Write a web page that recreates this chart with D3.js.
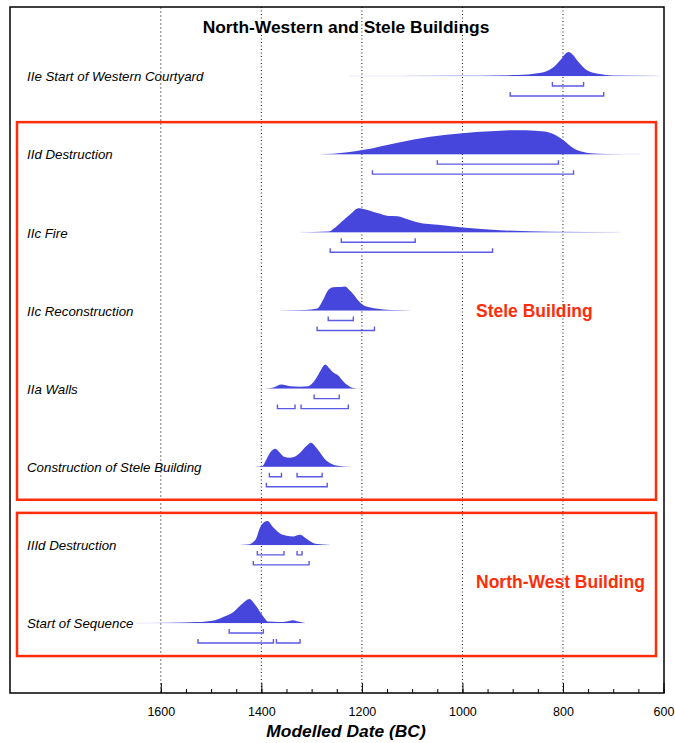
<!DOCTYPE html>
<html>
<head>
<meta charset="utf-8">
<script src="https://cdn.jsdelivr.net/npm/d3@7"></script>
<style>
  body { margin: 0; background: #fff; }
  text { font-family: "Liberation Sans", Arial, sans-serif; }
</style>
</head>
<body>
<div id="chart"></div>
<script>
// row labels, top to bottom
const labels = [
  'IIe Start of Western Courtyard',
  'IId Destruction',
  'IIc Fire',
  'IIc Reconstruction',
  'IIa Walls',
  'Construction of Stele Building',
  'IIId Destruction',
  'Start of Sequence'
];

// posterior densities: [year BC, relative height]
const densIIe = [[1225, 0], [1024, 0.01], [891, 0.04], [847, 0.12], [821, 0.33], [805, 0.67], [795, 0.93], [789, 1], [781, 0.9], [769, 0.58], [753, 0.25], [727, 0.08], [702, 0.02], [606, 0]];
const densIId = [[1283, 0], [1257, 0.02], [1199, 0.17], [1124, 0.5], [1064, 0.72], [1000, 0.87], [944, 0.95], [891, 1], [855, 0.98], [831, 0.92], [815, 0.8], [799, 0.58], [779, 0.25], [761, 0.1], [745, 0.04], [715, 0.01], [646, 0]];
const densFire = [[1323, 0], [1267, 0.03], [1253, 0.2], [1237, 0.5], [1223, 0.75], [1207, 1], [1193, 0.95], [1169, 0.8], [1147, 0.68], [1130, 0.67], [1114, 0.58], [1090, 0.42], [1044, 0.3], [1000, 0.2], [925, 0.09], [825, 0.02], [686, 0]];
const densRecon = [[1362, 0], [1313, 0.02], [1289, 0.08], [1277, 0.45], [1267, 0.85], [1257, 0.97], [1243, 0.98], [1233, 1], [1225, 0.85], [1217, 0.67], [1207, 0.4], [1199, 0.25], [1183, 0.12], [1169, 0.07], [1144, 0.02], [1104, 0]];
const densWalls = [[1392, 0], [1376, 0.05], [1360, 0.17], [1343, 0.1], [1323, 0.08], [1307, 0.1], [1297, 0.25], [1289, 0.5], [1281, 0.8], [1273, 1], [1265, 0.85], [1257, 0.67], [1247, 0.55], [1237, 0.3], [1229, 0.15], [1219, 0.04], [1203, 0]];
const densConstr = [[1412, 0], [1398, 0.03], [1390, 0.3], [1382, 0.6], [1372, 0.75], [1364, 0.6], [1355, 0.42], [1343, 0.38], [1331, 0.45], [1323, 0.58], [1311, 0.85], [1301, 1], [1291, 0.8], [1283, 0.58], [1273, 0.3], [1263, 0.15], [1247, 0.04], [1223, 0]];
const densIIId = [[1442, 0], [1426, 0.02], [1412, 0.2], [1402, 0.75], [1394, 0.95], [1388, 1], [1376, 0.72], [1362, 0.46], [1350, 0.38], [1337, 0.35], [1323, 0.42], [1313, 0.3], [1303, 0.15], [1293, 0.05], [1263, 0]];
const densStart = [[1651, 0], [1581, 0.01], [1528, 0.04], [1492, 0.12], [1476, 0.25], [1456, 0.45], [1438, 0.8], [1424, 1], [1412, 0.75], [1398, 0.33], [1386, 0.06], [1366, 0.04], [1347, 0.08], [1337, 0.12], [1327, 0.06], [1313, 0]];
const densities = [densIIe, densIId, densFire, densRecon, densWalls, densConstr, densIIId, densStart];

// highest posterior density ranges [from, to]
const ranges68 = [
  [[821, 759]], [[1050, 809]], [[1241, 1094]], [[1267, 1217]],
  [[1295, 1245]], [[1384, 1360], [1329, 1279]], [[1408, 1355], [1329, 1319]], [[1464, 1396]]
];
const ranges95 = [
  [[905, 719]], [[1179, 779]], [[1263, 940]], [[1289, 1175]],
  [[1368, 1333], [1321, 1227]], [[1390, 1269]], [[1416, 1305]], [[1526, 1376], [1370, 1323]]
];

// boxed groups: name, first row, last row
const groupNames = ['Stele Building', 'North-West Building'];
const groupRows = [[1, 5], [6, 7]];

const majorTicks = [1600, 1400, 1200, 1000, 800, 600];

const width = 675;
const height = 743;
const [ft, fr, fb, fl] = [7, 664, 693, 10];
const rowTop = 76;
const rowStep = 78.15;

const blue = '#4646dc';
const bracketBlue = '#5a5ae4';
const red = '#ff2d0a';

const x = d3.scaleLinear([1900, 600], [fl, 663.5]);
const h = d3.scaleLinear([0, 1], [0, 24]);
const rowY = i => rowTop + i * rowStep;

const svg = d3.select('#chart')
  .append('svg')
  .attr('width', width)
  .attr('height', height);

// grid lines
svg.append('g')
  .selectAll('line')
  .data(majorTicks.filter(d => d !== 600))
  .join('line')
  .attr('x1', d => x(d))
  .attr('x2', d => x(d))
  .attr('y1', ft)
  .attr('y2', fb)
  .attr('stroke', d => d === 1600 ? '#777' : '#111')
  .attr('stroke-width', 1)
  .attr('stroke-dasharray', d => d === 1600 ? '2,2' : '1,2.5');

// red group boxes
const groups = svg.append('g');
groups.selectAll('rect')
  .data(groupRows)
  .join('rect')
  .attr('x', 17)
  .attr('y', d => rowY(d[0]) - 32)
  .attr('width', 639)
  .attr('height', d => rowY(d[1]) - rowY(d[0]) + 65)
  .attr('fill', 'none')
  .attr('stroke', red)
  .attr('stroke-width', 2.5);

groups.selectAll('text')
  .data(groupNames)
  .join('text')
  .attr('x', 476)
  .attr('y', (d, i) => i === 0 ? rowY(3) : (rowY(6) + rowY(7)) / 2 - 2)
  .attr('dy', '0.35em')
  .attr('fill', red)
  .style('font-size', '17.5px')
  .style('font-weight', 'bold')
  .text(d => d);

// distributions
const area = d3.area()
  .x(d => x(d[0]))
  .y0(0)
  .y1(d => -h(d[1]))
  .curve(d3.curveMonotoneX);

const rows = svg.append('g')
  .selectAll('g')
  .data(labels)
  .join('g')
  .attr('transform', (d, i) => `translate(0,${rowY(i)})`);

rows.append('text')
  .attr('x', 27)
  .attr('dy', '0.4em')
  .style('font-size', '13.3px')
  .style('font-style', 'italic')
  .text(d => d);

// faint tails along the baseline
rows.append('line')
  .attr('x1', (d, i) => x(densities[i][0][0]))
  .attr('x2', (d, i) => x(densities[i][densities[i].length - 1][0]))
  .attr('stroke', blue)
  .attr('stroke-opacity', 0.12)
  .attr('stroke-width', 1);

rows.append('path')
  .attr('d', (d, i) => area(densities[i]))
  .attr('fill', blue);

// range brackets
function bracket(r, y) {
  return `M${x(r[0])},${y - 4}V${y}H${x(r[1])}V${y - 4}`;
}

rows.each(function (d, i) {
  const g = d3.select(this);
  g.selectAll('path.r68')
    .data(ranges68[i])
    .join('path')
    .attr('class', 'r68')
    .attr('d', r => bracket(r, 10));
  g.selectAll('path.r95')
    .data(ranges95[i])
    .join('path')
    .attr('class', 'r95')
    .attr('d', r => bracket(r, 20));
  g.selectAll('path.r68, path.r95')
    .attr('fill', 'none')
    .attr('stroke', bracketBlue)
    .attr('stroke-width', 1.4);
});

// axes: minor ticks every 50 years, labelled majors every 200
svg.append('g')
  .attr('transform', `translate(0,${fb})`)
  .call(d3.axisBottom(x)
    .tickValues(d3.range(1600, 599, -50))
    .tickSize(-4)
    .tickFormat(''))
  .call(g => g.select('.domain').remove())
  .call(g => g.selectAll('line').attr('stroke', '#000'));

svg.append('g')
  .attr('transform', `translate(0,${fb})`)
  .call(d3.axisBottom(x)
    .tickValues(majorTicks)
    .tickSizeInner(-10)
    .tickSizeOuter(0)
    .tickPadding(14)
    .tickFormat(d3.format('d')))
  .call(g => g.select('.domain').remove())
  .call(g => g.selectAll('line').attr('stroke', '#000'))
  .call(g => g.selectAll('text')
    .attr('fill', '#000')
    .style('font-size', '12.5px')
    .style('font-family', '"Liberation Sans", Arial, sans-serif'));

// frame
svg.append('rect')
  .attr('x', fl)
  .attr('y', ft)
  .attr('width', fr - fl)
  .attr('height', fb - ft)
  .attr('fill', 'none')
  .attr('stroke', '#000')
  .attr('stroke-width', 1.5);

// title and axis label
svg.append('text')
  .attr('x', 346)
  .attr('y', 27)
  .attr('dy', '0.35em')
  .attr('text-anchor', 'middle')
  .style('font-size', '17.4px')
  .style('font-weight', 'bold')
  .text('North-Western and Stele Buildings');

svg.append('text')
  .attr('x', 346)
  .attr('y', 731)
  .attr('dy', '0.35em')
  .attr('text-anchor', 'middle')
  .style('font-size', '17.4px')
  .style('font-weight', 'bold')
  .style('font-style', 'italic')
  .text('Modelled Date (BC)');
</script>
</body>
</html>
